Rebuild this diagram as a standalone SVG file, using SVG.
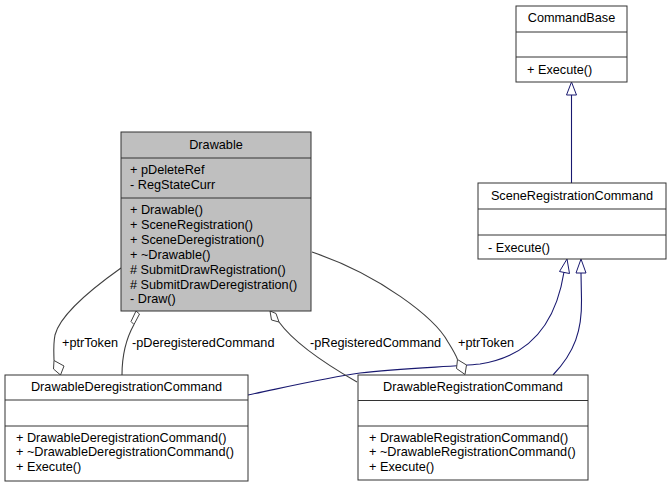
<svg xmlns="http://www.w3.org/2000/svg" width="671" height="487" viewBox="0 0 671 487">
<style>
text{font-family:"Liberation Sans",Arial,sans-serif;font-size:12.7px;fill:#000}
.t{text-anchor:middle}
.box{fill:#fff;stroke:#333;stroke-width:1}
.gray{fill:#bfbfbf}
.sep{stroke:#333;stroke-width:1}
.agg{fill:none;stroke:#404040;stroke-width:1.1}
.dia{fill:#fff;stroke:#404040;stroke-width:1}
.gen{fill:none;stroke:#191970;stroke-width:1.1}
.tri{fill:#fff;stroke:#191970;stroke-width:1}
</style>
<rect width="671" height="487" fill="#fff"/>
<g id="connectors">
  <path class="gen" d="M571.5,183 L571.5,95"/>
  <polygon class="tri" points="571.5,82 566.5,95 576.5,95"/>
  <path class="gen" d="M248,395 C300,384 330,377 360,373 C400,368 450,367 480,364 C540,355 558,310 564,272"/>
  <polygon class="tri" points="567,259 559.5,271.5 569.5,273.5"/>
  <path class="gen" d="M553,375 C575,352 582,330 581.5,300 L581,273"/>
  <polygon class="tri" points="581,259 576,273 586,273"/>
  <path class="agg" d="M121,268 C90,290 60,315 55,335 C53,345 54,355 54,360.5"/>
  <polygon class="dia" points="54,360.5 64,366 60.5,375 53.5,369"/>
  <text x="62" y="346.5">+ptrToken</text>
  <path class="agg" d="M134,324.5 C127,337 122,352 122,375"/>
  <polygon class="dia" points="136,311 139.5,314 134,324.5 131,321.5"/>
  <text x="132" y="346.5">-pDeregisteredCommand</text>
  <path class="agg" d="M279,322 C292,340 315,358 357,382"/>
  <polygon class="dia" points="270,311 276,313.5 279,322 271.5,320"/>
  <text x="310" y="346.5">-pRegisteredCommand</text>
  <path class="agg" d="M312,252 C380,275 435,318 448,342 C453,350 456,355 457.5,359.5"/>
  <polygon class="dia" points="457.5,359.5 466.5,365 465,374.5 456.5,368.5"/>
  <text x="458" y="346.5">+ptrToken</text>
</g>
<g id="Drawable">
  <rect class="box gray" x="121" y="132" width="190" height="179"/>
  <line class="sep" x1="121" y1="158" x2="311" y2="158"/>
  <line class="sep" x1="121" y1="198" x2="311" y2="198"/>
  <text class="t" x="216" y="148.5">Drawable</text>
  <text x="130" y="173.5">+ pDeleteRef</text>
  <text x="130" y="188.5">- RegStateCurr</text>
  <text x="130" y="213.5">+ Drawable()</text>
  <text x="130" y="228.5">+ SceneRegistration()</text>
  <text x="130" y="243.5">+ SceneDeregistration()</text>
  <text x="130" y="258.5">+ ~Drawable()</text>
  <text x="130" y="273.5"># SubmitDrawRegistration()</text>
  <text x="130" y="288.5"># SubmitDrawDeregistration()</text>
  <text x="130" y="303">- Draw()</text>
</g>
<g id="CommandBase">
  <rect class="box" x="516" y="6" width="111" height="76"/>
  <line class="sep" x1="516" y1="32" x2="627" y2="32"/>
  <line class="sep" x1="516" y1="57" x2="627" y2="57"/>
  <text class="t" x="571.5" y="22">CommandBase</text>
  <text x="527" y="74">+ Execute()</text>
</g>
<g id="SceneRegistrationCommand">
  <rect class="box" x="478" y="183" width="188" height="76"/>
  <line class="sep" x1="478" y1="209" x2="666" y2="209"/>
  <line class="sep" x1="478" y1="235" x2="666" y2="235"/>
  <text class="t" x="572" y="200">SceneRegistrationCommand</text>
  <text x="488" y="251.5">- Execute()</text>
</g>
<g id="DrawableDeregistrationCommand">
  <rect class="box" x="5" y="375" width="243" height="106"/>
  <line class="sep" x1="5" y1="400" x2="248" y2="400"/>
  <line class="sep" x1="5" y1="426" x2="248" y2="426"/>
  <text class="t" x="126.5" y="391">DrawableDeregistrationCommand</text>
  <text x="16" y="441.5">+ DrawableDeregistrationCommand()</text>
  <text x="16" y="456">+ ~DrawableDeregistrationCommand()</text>
  <text x="16" y="471">+ Execute()</text>
</g>
<g id="DrawableRegistrationCommand">
  <rect class="box" x="358" y="375" width="230" height="105"/>
  <line class="sep" x1="358" y1="400.5" x2="588" y2="400.5"/>
  <line class="sep" x1="358" y1="426" x2="588" y2="426"/>
  <text class="t" x="473" y="390.5">DrawableRegistrationCommand</text>
  <text x="369" y="442">+ DrawableRegistrationCommand()</text>
  <text x="369" y="456">+ ~DrawableRegistrationCommand()</text>
  <text x="369" y="470.5">+ Execute()</text>
</g>
</svg>
